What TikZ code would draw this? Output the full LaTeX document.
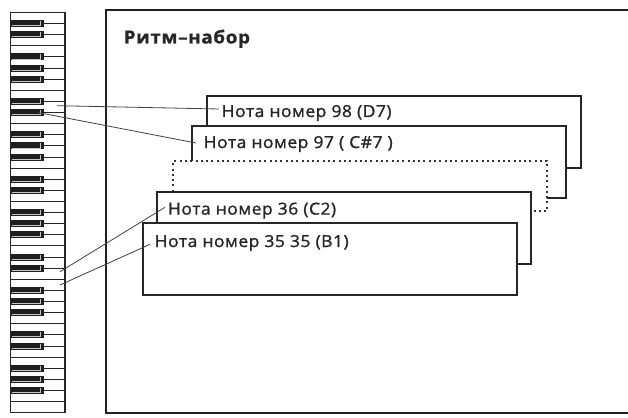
\documentclass[tikz,border=0pt]{standalone}
\usepackage{fontspec}
\setmainfont{Open Sans}
\newfontfamily\boxfont[FakeStretch=1.06,LetterSpace=3,FakeBold=1.2]{Open Sans}
\newfontfamily\titlefont[FakeStretch=1.05,LetterSpace=3.5,FakeBold=0.8]{Open Sans}
\begin{document}
\begin{tikzpicture}[x=1pt,y=-1pt,
  frame/.style={line width=2pt, draw=black!88},
  notebox/.style={draw=black!85, line width=2pt, fill=white, minimum width=374pt,
    minimum height=72.5pt, anchor=north west, inner sep=0pt, outer sep=0pt},
  dotbox/.style={notebox, draw=black!80, dash pattern=on 2pt off 3.3pt, minimum height=50pt},
  notetext/.style={anchor=base west, inner sep=0pt, font=\boxfont\fontsize{16.5}{19}\selectfont, text=black!85},
  conn/.style={draw=black!75, line width=0.8pt},
  keyline/.style={draw=black!85, line width=1pt},
  blackkey/.style={fill=black!88},
  keyshine/.style={draw=gray!45, line width=0.8pt},
]
\useasboundingbox (0,0) rectangle (628,417);

% main frame
\draw[frame] (628,10) -| (106,412.5) -- (628,412.5);
\node[anchor=base west, inner sep=0pt, font=\titlefont\bfseries\fontsize{18}{21}\selectfont, text=black!85] (title) at (123.5,43.5) {Ритм–набор};

% keyboard
\draw[line width=1.2pt, draw=black!85, fill=white] (10.5,12.5) rectangle (65,412.7);
\foreach \i in {1,...,35} {
  \pgfmathsetmacro\yy{12.5+\i*11.117}
  \pgfmathtruncatemacro\m{mod(\i,7)}
  \ifnum\m=3
    \draw[keyline] (10.5,\yy) -- (65,\yy);
  \else\ifnum\m=0
    \draw[keyline] (10.5,\yy) -- (65,\yy);
  \else
    \fill[blackkey] (10.5,\yy-3.5) rectangle (43.5,\yy+3.5);
    \draw[keyshine] (11.5,\yy+2) -- (40.8,\yy+2) -- (40.8,\yy-2.5);
    \draw[keyline] (43.5,\yy) -- (65,\yy);
  \fi\fi
}

% note boxes, back to front
\node[notebox] (b98) at (206.7,95.7) {};
\node[notebox] (b97) at (192.3,125.7) {};
\node[dotbox] (bdots) at (173.3,161) {};
\node[notebox] (b36) at (156.7,191.7) {};
\node[notebox] (b35) at (142.7,222.7) {};

\node[notetext] (t98) at (221.5,117) {Нота номер 98 (D7)};
\node[notetext] (t97) at (203.5,148) {Нота номер 97 ( C\#7 )};
\node[notetext] (t36) at (167.8,214.6) {Нота номер 36 (C2)};
\node[notetext] (t35) at (154.5,247) {Нота номер 35 35 (B1)};

% connectors
\coordinate (k98) at (57,105.7);
\coordinate (k97) at (38,112.5);
\coordinate (k36) at (60,271.7);
\coordinate (k35) at (60,285);
\coordinate (e98) at (219,109);
\coordinate (e97) at (196,143);
\coordinate (e36) at (165,207.3);
\coordinate (e35) at (150,244.3);
\draw[conn] (k98) -- (e98);
\draw[conn] (k97) -- (e97);
\draw[conn] (k36) -- (e36);
\draw[conn] (k35) -- (e35);
\end{tikzpicture}
\end{document}
